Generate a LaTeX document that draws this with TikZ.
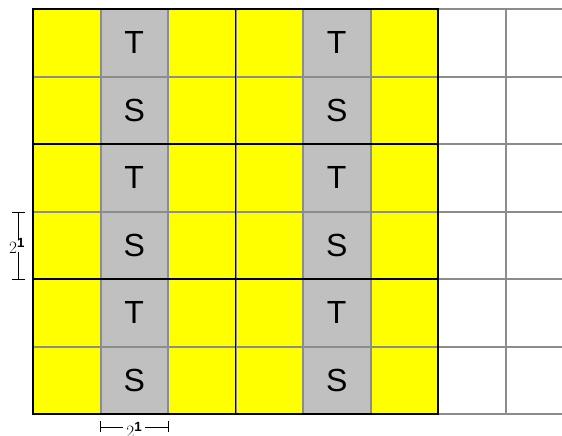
\documentclass[tikz,border=0pt]{standalone}
\usepackage{fontspec}
\setmainfont{Liberation Sans}
\definecolor{cellgray}{HTML}{C0C0C0}
\definecolor{gridgray}{HTML}{8C8C8C}
\definecolor{cellyellow}{HTML}{FFFF00}
\begin{document}
\begin{tikzpicture}[x=1pt,y=-1pt,
  letter/.style={font=\fontsize{32}{32}\selectfont, inner sep=0pt},
  gridline/.style={draw=gridgray, line width=2pt},
  blockline/.style={draw=black, line width=1.8pt},
  dimline/.style={draw=black, line width=0.9pt},
  dimlabel/.style={font=\fontsize{19}{19}\selectfont, inner sep=0pt}]
\useasboundingbox (0,0) rectangle (562,436);
% fills
\fill[cellyellow] (33,9) rectangle (438,414);
\fill[cellgray] (100.5,9) rectangle (168,414);
\fill[cellgray] (303,9) rectangle (370.5,414);
% grid lines
\foreach \y in {9,76.5,144,211.5,279,346.5,414}
  \draw[gridline] (33,\y) -- (562,\y);
\foreach \x in {33,100.5,168,235.5,303,370.5,438,505.5}
  \draw[gridline] (\x,9) -- (\x,414);
% block outlines
\foreach \x in {33,235.5}
  \foreach \y in {9,144,279}
    \draw[blockline] (\x,\y) rectangle ++(202.5,135);
% letters
\foreach \x [count=\i] in {134.25,336.75}
  \foreach \y [count=\j] in {42.75,177.75,312.75} {
    \node[letter] (t\i\j) at (\x,\y) {T};
    \node[letter] (s\i\j) at (\x,\y+67.5) {S};
  }
% left dimension
\node[dimlabel] (dl) at (17,246) {$2^{\mathbf{1}}$};
\coordinate (la) at (18,212);
\coordinate (lb) at (18,279);
\draw[dimline] (la) -- ([yshift=-2]dl.north -| la);
\draw[dimline] ([yshift=2]dl.south -| lb) -- (lb);
\draw[dimline] ([xshift=-6]la) -- ([xshift=7]la);
\draw[dimline] ([xshift=-6]lb) -- ([xshift=7]lb);
% bottom dimension
\node[dimlabel, anchor=north] (db) at (134.25,422) {$2^{\mathbf{1}}$};
\coordinate (ba) at (100.5,427);
\coordinate (bb) at (168,427);
\draw[dimline] (ba) -- ([xshift=-3]db.west |- ba);
\draw[dimline] ([xshift=3]db.east |- bb) -- (bb);
\draw[dimline] ([yshift=-5]ba) -- ([yshift=6]ba);
\draw[dimline] ([yshift=-5]bb) -- ([yshift=6]bb);
\end{tikzpicture}
\end{document}
